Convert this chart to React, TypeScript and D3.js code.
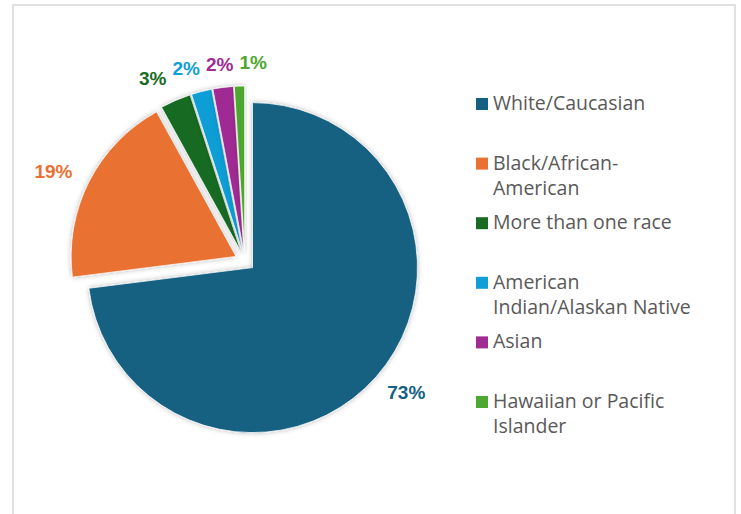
import React from 'react';
import * as d3 from 'd3';

// Chart data
const categories = [
  'White/Caucasian',
  'Black/African-American',
  'More than one race',
  'American Indian/Alaskan Native',
  'Asian',
  'Hawaiian or Pacific Islander',
];
const shares = [73, 19, 3, 2, 2, 1];
const colors = ['#156082', '#E97132', '#196B24', '#0F9ED5', '#A02B93', '#4EA72E'];
// legend text as it wraps in the original
const legendLines = [
  ['White/Caucasian'],
  ['Black/African-', 'American'],
  ['More than one race'],
  ['American', 'Indian/Alaskan Native'],
  ['Asian'],
  ['Hawaiian or Pacific', 'Islander'],
];

const W = 741;
const H = 514;
const cx = 245;
const cy = 261;
const radius = 165;
const explode = 10;
const labelR = 196;
const labelFont = 19;
const labelGap = 6;

type Label = { i: number; text: string; w: number; x: number; y: number };

function spreadTop(labels: Label[]) {
  // Labels crowded above the pie get pushed apart sideways
  const top = labels.filter((l) => l.y < -radius * 0.8).sort((a, b) => a.x - b.x);
  let groups: Label[][] = top.map((l) => [l]);
  const place = (g: Label[], orig: number[]) => {
    const pos = [0];
    for (let j = 1; j < g.length; j++) pos.push(pos[j - 1] + (g[j - 1].w + g[j].w) / 2 + labelGap);
    const shift = d3.mean(orig)! - d3.mean(pos)!;
    g.forEach((l, j) => (l.x = pos[j] + shift));
  };
  const origX = new Map(top.map((l) => [l, l.x]));
  let merged = true;
  while (merged) {
    merged = false;
    for (let k = 0; k < groups.length - 1; k++) {
      const a = groups[k][groups[k].length - 1];
      const b = groups[k + 1][0];
      if (b.x - a.x < (a.w + b.w) / 2 + labelGap) {
        const g = [...groups[k], ...groups[k + 1]];
        place(g, g.map((l) => origX.get(l)!));
        groups.splice(k, 2, g);
        merged = true;
        break;
      }
    }
  }
}

export default function App() {
  const slices = d3.pie<number>().sort(null).value((d) => d)(shares);
  const arc = d3.arc<d3.PieArcDatum<number>>().innerRadius(0).outerRadius(radius);

  const labels: Label[] = slices.map((s, i) => {
    const a = (s.startAngle + s.endAngle) / 2;
    const dx = Math.sin(a);
    const dy = -Math.cos(a);
    const w = labelFont * (0.556 * String(shares[i]).length + 0.889);
    const h = labelFont * 0.72;
    return { i, text: `${shares[i]}%`, w, x: dx * labelR + (dx * w) / 2, y: dy * (labelR - 4) + (dy * h) / 2 };
  });
  spreadTop(labels);

  const legendX = 476;
  const legendTop = 110;
  const legendStep = 59.6;
  const lineH = 25;

  return (
    <svg width={W} height={H} style={{ position: 'absolute', left: 0, top: 0, background: '#fff' }}>
      <defs>
        <filter id="sliceShadow" x="-20%" y="-20%" width="140%" height="140%">
          <feDropShadow dx="0" dy="0" stdDeviation="2.5" floodColor="#000" floodOpacity="0.28" />
        </filter>
      </defs>
      <rect x={13} y={5} width={722} height={600} fill="#fff" stroke="#d9d9d9" strokeWidth={1.6} />

      <g transform={`translate(${cx},${cy})`}>
        {slices.map((s, i) => {
          const a = (s.startAngle + s.endAngle) / 2;
          const ox = Math.sin(a) * explode;
          const oy = -Math.cos(a) * explode;
          return (
            <path
              key={categories[i]}
              d={arc(s) || ''}
              transform={`translate(${ox},${oy})`}
              fill={colors[i]}
              stroke="#fff"
              strokeWidth={0.75}
              filter="url(#sliceShadow)"
            />
          );
        })}
        {labels.map((l) => (
          <text
            key={l.i}
            x={l.x}
            y={l.y}
            dy="0.36em"
            textAnchor="middle"
            fontFamily="'Liberation Sans', Arial, sans-serif"
            fontWeight="bold"
            fontSize={labelFont}
            fill={colors[l.i]}
          >
            {l.text}
          </text>
        ))}
      </g>

      <g fontFamily="'Open Sans', sans-serif" fontSize={19.5} fill="#595959">
        {legendLines.map((lines, i) => {
          const base = legendTop + i * legendStep;
          return (
            <g key={categories[i]}>
              <rect x={legendX} y={base - 12} width={12} height={12} fill={colors[i]} />
              {lines.map((t, j) => (
                <text key={t} x={legendX + 17} y={base + j * lineH}>
                  {t}
                </text>
              ))}
            </g>
          );
        })}
      </g>
    </svg>
  );
}
